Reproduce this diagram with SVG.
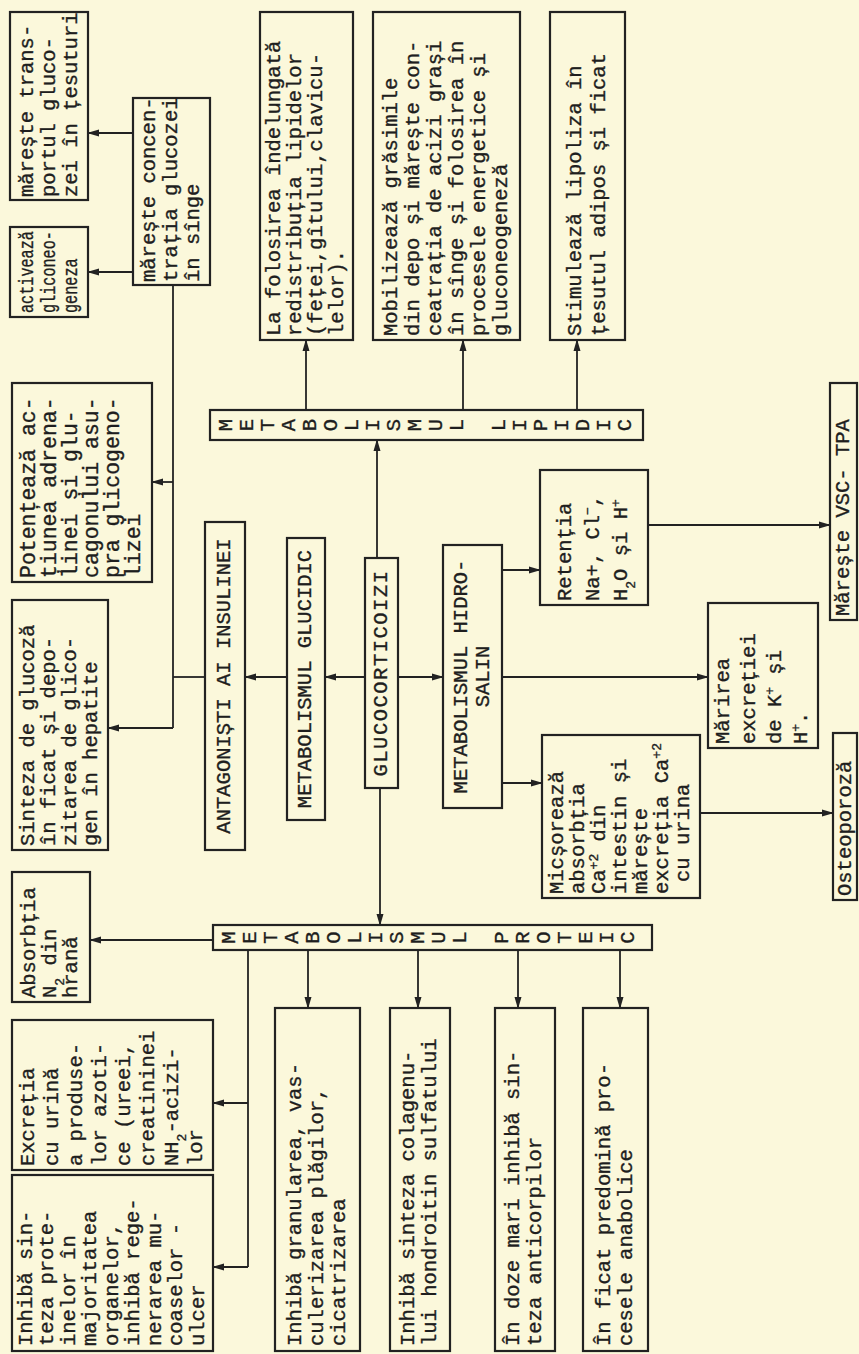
<svg xmlns="http://www.w3.org/2000/svg" width="859" height="1354" viewBox="0 0 859 1354">
<defs>
<marker id="ah" markerWidth="12" markerHeight="8" refX="11" refY="4" orient="auto" markerUnits="userSpaceOnUse"><path d="M0,0.5 L12,4 L0,7.5 z" fill="#222"/></marker>
</defs>
<style>
.bg{fill:#fbf8db}
.box{fill:none;stroke:#222;stroke-width:2.2}
.c{stroke:#222;stroke-width:1.8;fill:none}
.a{marker-end:url(#ah)}
text{font-family:"Liberation Mono","DejaVu Sans Mono",monospace;font-size:20.5px;fill:#1e1e1e;stroke:#1e1e1e;stroke-width:0.35}
.m{text-anchor:middle}
.sup{font-size:13px;baseline-shift:super}
.sub{font-size:13px;baseline-shift:sub}
</style>
<rect class="bg" x="0" y="0" width="859" height="1354"/>

<g id="connectors">
<line class="c a" x1="133" y1="133" x2="88" y2="133"/>
<line class="c a" x1="133" y1="272" x2="88" y2="272"/>
<line class="c" x1="173" y1="285" x2="173" y2="728"/>
<line class="c a" x1="173" y1="482" x2="152" y2="482"/>
<line class="c a" x1="173" y1="728" x2="108" y2="728"/>
<line class="c" x1="205" y1="677" x2="173" y2="677"/>
<line class="c a" x1="287" y1="677" x2="245" y2="677"/>
<line class="c a" x1="365" y1="677" x2="325" y2="677"/>
<line class="c a" x1="398" y1="677" x2="443" y2="677"/>
<line class="c a" x1="377" y1="558" x2="377" y2="440"/>
<line class="c a" x1="380" y1="788" x2="380" y2="925"/>
<line class="c a" x1="306" y1="410" x2="306" y2="340"/>
<line class="c a" x1="463" y1="410" x2="463" y2="340"/>
<line class="c a" x1="577" y1="410" x2="577" y2="340"/>
<line class="c a" x1="502" y1="570" x2="540" y2="570"/>
<line class="c a" x1="502" y1="677" x2="708" y2="677"/>
<line class="c a" x1="502" y1="783" x2="542" y2="783"/>
<line class="c a" x1="648" y1="525" x2="830" y2="525"/>
<line class="c a" x1="700" y1="813" x2="833" y2="813"/>
<line class="c a" x1="213" y1="940" x2="90" y2="940"/>
<line class="c" x1="248" y1="950" x2="248" y2="1267"/>
<line class="c a" x1="248" y1="1103" x2="213" y2="1103"/>
<line class="c a" x1="248" y1="1267" x2="213" y2="1267"/>
<line class="c a" x1="308" y1="950" x2="308" y2="1008"/>
<line class="c a" x1="418" y1="950" x2="418" y2="1008"/>
<line class="c a" x1="518" y1="950" x2="518" y2="1008"/>
<line class="c a" x1="620" y1="950" x2="620" y2="1008"/>
</g>

<g id="n-transport"><rect class="box" x="10" y="12" width="78" height="188"/>
<text transform="translate(33,197) rotate(-90)"><tspan x="0" y="0">mărește trans-</tspan><tspan x="0" y="22">portul gluco-</tspan><tspan x="0" y="44">zei în țesuturi</tspan></text></g>

<g id="n-gliconeo"><rect class="box" x="10" y="227" width="78" height="90"/>
<text transform="translate(33,313) rotate(-90) scale(0.74,1)"><tspan x="0" y="0">activează</tspan><tspan x="0" y="22">gliconeo-</tspan><tspan x="0" y="44">geneza</tspan></text></g>

<g id="n-concentratia"><rect class="box" x="133" y="98" width="77" height="187"/>
<text transform="translate(155,282) rotate(-90)"><tspan x="0" y="0">mărește concen-</tspan><tspan x="0" y="22">trația glucozei</tspan><tspan x="0" y="44">în sînge</tspan></text></g>

<g id="n-potenteaza"><rect class="box" x="12" y="383" width="140" height="199"/>
<text transform="translate(34.5,578) rotate(-90)" style="font-size:21.5px"><tspan x="0" y="0">Potențează ac-</tspan><tspan x="0" y="21">țiunea adrena-</tspan><tspan x="0" y="42">linei și glu-</tspan><tspan x="0" y="63">cagonului asu-</tspan><tspan x="0" y="84">pra glicogeno-</tspan><tspan x="0" y="105">lizei</tspan></text></g>

<g id="n-sinteza"><rect class="box" x="12" y="600" width="96" height="250"/>
<text transform="translate(33.5,846) rotate(-90)"><tspan x="0" y="0">Sinteza de glucoză</tspan><tspan x="0" y="21">în ficat și depo-</tspan><tspan x="0" y="42">zitarea de glico-</tspan><tspan x="0" y="63">gen în hepatite</tspan></text></g>

<g id="n-folosirea"><rect class="box" x="260" y="12" width="93" height="328"/>
<text transform="translate(280,336) rotate(-90)"><tspan x="0" y="0">La folosirea îndelungată</tspan><tspan x="0" y="21">redistribuția lipidelor</tspan><tspan x="0" y="42">(feței,gîtului,clavicu-</tspan><tspan x="0" y="63">lelor).</tspan></text></g>

<g id="n-mobilizeaza"><rect class="box" x="373" y="12" width="147" height="328"/>
<text transform="translate(396.5,336) rotate(-90)"><tspan x="0" y="0">Mobilizează grăsimile</tspan><tspan x="0" y="22">din depo și mărește con-</tspan><tspan x="0" y="44">ceatrația de acizi grași</tspan><tspan x="0" y="66">în sînge și folosirea în</tspan><tspan x="0" y="88">procesele energetice și</tspan><tspan x="0" y="110">gluconeogeneză</tspan></text></g>

<g id="n-lipoliza"><rect class="box" x="550" y="12" width="75" height="328"/>
<text transform="translate(580.5,336) rotate(-90)"><tspan x="0" y="0">Stimulează lipoliza în</tspan><tspan x="0" y="24">țesutul adipos și ficat</tspan></text></g>

<g id="n-met-lipidic"><rect class="box" x="210" y="410" width="433" height="30"/>
<text class="m" transform="translate(231.5,425) rotate(-90)"><tspan x="0" y="0">M</tspan><tspan x="0" y="21">E</tspan><tspan x="0" y="42">T</tspan><tspan x="0" y="63">A</tspan><tspan x="0" y="84">B</tspan><tspan x="0" y="105">O</tspan><tspan x="0" y="126">L</tspan><tspan x="0" y="147">I</tspan><tspan x="0" y="168">S</tspan><tspan x="0" y="189">M</tspan><tspan x="0" y="210">U</tspan><tspan x="0" y="231">L</tspan><tspan x="0" y="273">L</tspan><tspan x="0" y="294">I</tspan><tspan x="0" y="315">P</tspan><tspan x="0" y="336">I</tspan><tspan x="0" y="357">D</tspan><tspan x="0" y="378">I</tspan><tspan x="0" y="399">C</tspan></text></g>

<g id="n-antagonisti"><rect class="box" x="205" y="522" width="40" height="328"/>
<text class="m" transform="translate(230,686) rotate(-90)">ANTAGONIȘTI AI INSULINEI</text></g>

<g id="n-met-glucidic"><rect class="box" x="287" y="538" width="38" height="282"/>
<text class="m" transform="translate(311,679) rotate(-90)">METABOLISMUL GLUCIDIC</text></g>

<g id="n-glucocorticoizi"><rect class="box" x="365" y="558" width="33" height="230"/>
<text class="m" transform="translate(386.5,673) rotate(-90)" letter-spacing="1.5">GLUCOCORTICOIZI</text></g>

<g id="n-met-hidrosalin"><rect class="box" x="443" y="545" width="59" height="263"/>
<text class="m" transform="translate(466.5,676.5) rotate(-90)"><tspan x="0" y="0">METABOLISMUL HIDRO-</tspan><tspan x="0" y="22">SALIN</tspan></text></g>

<g id="n-retentia"><rect class="box" x="540" y="470" width="108" height="135"/>
<text transform="translate(571,601) rotate(-90)"><tspan x="0" y="0">Retenția</tspan><tspan x="0" y="28">Na+, Cl<tspan class="sup">−</tspan>,</tspan><tspan x="0" y="56">H<tspan class="sub">2</tspan>O și H<tspan class="sup">+</tspan></tspan></text></g>

<g id="n-marirea"><rect class="box" x="708" y="603" width="110" height="145"/>
<text transform="translate(729,744) rotate(-90)"><tspan x="0" y="0">Mărirea</tspan><tspan x="0" y="26">excreției</tspan><tspan x="0" y="52">de K<tspan class="sup">+</tspan> și</tspan><tspan x="0" y="78">H<tspan class="sup">+</tspan>.</tspan></text></g>

<g id="n-micsoreaza"><rect class="box" x="542" y="735" width="158" height="163"/>
<text transform="translate(563,894) rotate(-90)"><tspan x="0" y="0">Micșorează</tspan><tspan x="0" y="21">absorbția</tspan><tspan x="0" y="42">Ca<tspan class="sup">+2</tspan> din</tspan><tspan x="0" y="63">intestin și</tspan><tspan x="0" y="84">mărește</tspan><tspan x="0" y="105">excreția Ca<tspan class="sup">+2</tspan></tspan><tspan x="12" y="126">cu urina</tspan></text></g>

<g id="n-vsc"><rect class="box" x="830" y="383" width="27" height="237"/>
<text transform="translate(849,616) rotate(-90)">Mărește VSC- TPA</text></g>

<g id="n-osteoporoza"><rect class="box" x="833" y="733" width="24" height="167"/>
<text transform="translate(851,896) rotate(-90)">Osteoporoză</text></g>

<g id="n-met-proteic"><rect class="box" x="213" y="925" width="439" height="25"/>
<text class="m" transform="translate(234.5,937.5) rotate(-90)"><tspan x="0" y="0">M</tspan><tspan x="0" y="21">E</tspan><tspan x="0" y="42">T</tspan><tspan x="0" y="63">A</tspan><tspan x="0" y="84">B</tspan><tspan x="0" y="105">O</tspan><tspan x="0" y="126">L</tspan><tspan x="0" y="147">I</tspan><tspan x="0" y="168">S</tspan><tspan x="0" y="189">M</tspan><tspan x="0" y="210">U</tspan><tspan x="0" y="231">L</tspan><tspan x="0" y="273">P</tspan><tspan x="0" y="294">R</tspan><tspan x="0" y="315">O</tspan><tspan x="0" y="336">T</tspan><tspan x="0" y="357">E</tspan><tspan x="0" y="378">I</tspan><tspan x="0" y="399">C</tspan></text></g>

<g id="n-absorbtia"><rect class="box" x="12" y="872" width="78" height="130"/>
<text transform="translate(35,998) rotate(-90)"><tspan x="0" y="0">Absorbția</tspan><tspan x="0" y="21">N<tspan class="sub">2</tspan> din</tspan><tspan x="0" y="42">hrană</tspan></text></g>

<g id="n-excretia"><rect class="box" x="12" y="1020" width="201" height="150"/>
<text transform="translate(33.5,1166) rotate(-90)"><tspan x="0" y="0">Excreția</tspan><tspan x="0" y="24">cu urină</tspan><tspan x="0" y="48">a produse-</tspan><tspan x="0" y="72">lor azoti-</tspan><tspan x="0" y="96">ce (ureei,</tspan><tspan x="0" y="120">creatininei</tspan><tspan x="0" y="144">NH<tspan class="sub">2</tspan>-acizi-</tspan><tspan x="0" y="168">lor</tspan></text></g>

<g id="n-inhiba-sinteza"><rect class="box" x="12" y="1175" width="201" height="176"/>
<text transform="translate(31.5,1346) rotate(-90)"><tspan x="0" y="0">Inhibă sin-</tspan><tspan x="0" y="21.5">teza prote-</tspan><tspan x="0" y="43">inelor în</tspan><tspan x="0" y="64.5">majoritatea</tspan><tspan x="0" y="86">organelor,</tspan><tspan x="0" y="107.5">inhibă rege-</tspan><tspan x="0" y="129">nerarea mu-</tspan><tspan x="0" y="150.5">coaselor -</tspan><tspan x="0" y="172">ulcer</tspan></text></g>

<g id="n-granularea"><rect class="box" x="275" y="1008" width="85" height="343"/>
<text transform="translate(300.5,1346) rotate(-90)"><tspan x="0" y="0">Inhibă granularea, vas-</tspan><tspan x="0" y="22">culerizarea plăgilor,</tspan><tspan x="0" y="44">cicatrizarea</tspan></text></g>

<g id="n-colagen"><rect class="box" x="390" y="1008" width="60" height="343"/>
<text transform="translate(414,1346) rotate(-90)"><tspan x="0" y="0">Inhibă sinteza colagenu-</tspan><tspan x="0" y="22">lui hondroitin sulfatului</tspan></text></g>

<g id="n-anticorpi"><rect class="box" x="495" y="1008" width="60" height="343"/>
<text transform="translate(519,1346) rotate(-90)"><tspan x="0" y="0">În doze mari inhibă sin-</tspan><tspan x="0" y="22">teza anticorpilor</tspan></text></g>

<g id="n-ficat"><rect class="box" x="583" y="1008" width="65" height="343"/>
<text transform="translate(609.5,1346) rotate(-90)"><tspan x="0" y="0">În ficat predomină pro-</tspan><tspan x="0" y="22">cesele anabolice</tspan></text></g>
</svg>
